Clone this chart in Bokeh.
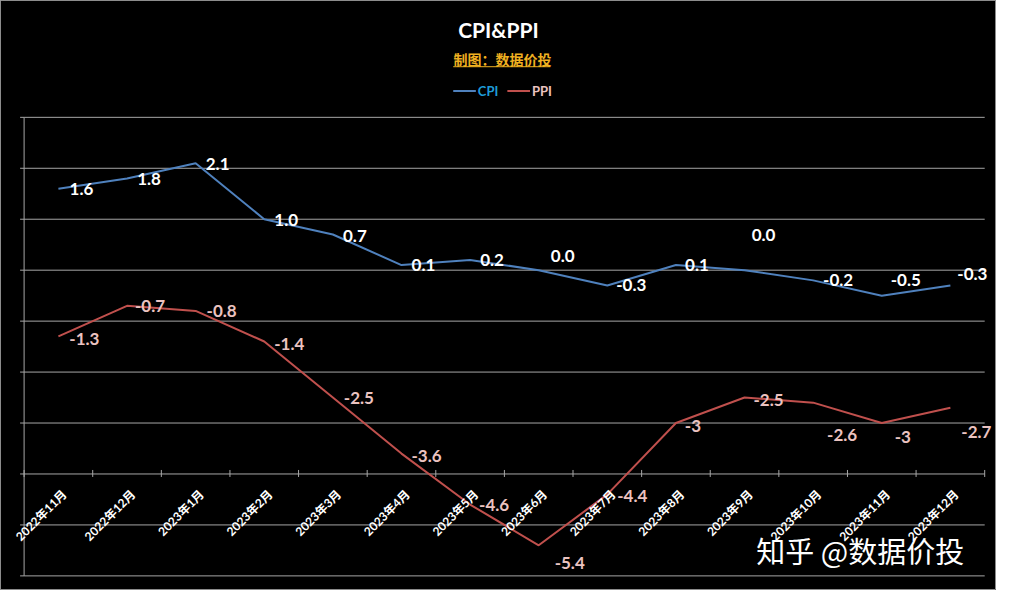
import numpy as np
from bokeh.plotting import figure
from bokeh.models import Range1d, ColumnDataSource
from bokeh.core.properties import value
from bokeh.embed import file_html
from bokeh.resources import INLINE

# ---------------- data ----------------
months = ["2022年11月", "2022年12月", "2023年1月", "2023年2月", "2023年3月",
          "2023年4月", "2023年5月", "2023年6月", "2023年7月", "2023年8月",
          "2023年9月", "2023年10月", "2023年11月", "2023年12月"]
cpi = [1.6, 1.8, 2.1, 1.0, 0.7, 0.1, 0.2, 0.0, -0.3, 0.1, 0.0, -0.2, -0.5, -0.3]
ppi = [-1.3, -0.7, -0.8, -1.4, -2.5, -3.6, -4.6, -5.4, -4.4, -3.0, -2.5, -2.6, -3.0, -2.7]
cpi_labels = ["1.6", "1.8", "2.1", "1.0", "0.7", "0.1", "0.2", "0.0", "-0.3", "0.1",
              "0.0", "-0.2", "-0.5", "-0.3"]
ppi_labels = ["-1.3", "-0.7", "-0.8", "-1.4", "-2.5", "-3.6", "-4.6", "-5.4", "-4.4",
              "-3", "-2.5", "-2.6", "-3", "-2.7"]
y_ticks = [3, 2, 1, 0, -1, -2, -3, -4, -5, -6]
x_axis_cross = -4

# label placement (screen px offsets, style only)
cpi_dx = [23, 22, 22, 22, 22, 22, 22, 24, 24, 21, 19, 25, 24, 22]
cpi_dy = [0, 1, 1, 1, 1, 0, 0, -14, 0, 0, -35, 0, -16, -11]
ppi_dx = [26, 23, 26, 25, 26, 25, 24, 31, 25, 17, 24, 29, 21, 26]
ppi_dy = [3, 0, 0, 2, 0, 2, 0, 18, 2, 3, 2, 32, 14, 24]

# ---------------- layout ----------------
W, H = 996, 590
REF_W, REF_H = 1012, 606
X0, X1 = -0.844, 13.672
Y0, Y1 = -6.287, 5.293


def px2x(px):
    return X0 + px / REF_W * (X1 - X0)


def py2y(py):
    return Y1 - py / REF_H * (Y1 - Y0)


idx = list(range(len(months)))
GRID = "#A6A6A6"
LAT = value("Lato, 'Noto Sans CJK SC'")
CJK = value("'Noto Sans CJK SC'")

p = figure(width=W, height=H, x_range=Range1d(X0, X1), y_range=Range1d(Y0, Y1),
           output_backend="svg", toolbar_location=None, min_border=0,
           x_axis_location=None, y_axis_location=None,
           background_fill_color="black", border_fill_color="black")
p.xgrid.visible = False
p.ygrid.visible = False
p.outline_line_color = "#8C8C8C"
p.outline_line_width = 1

xl, xr = -0.5, len(months) - 0.5
# horizontal grid lines
p.segment(x0=[xl] * len(y_ticks), x1=[xr] * len(y_ticks), y0=y_ticks, y1=y_ticks,
          line_color=GRID, line_width=1)
# left value axis
p.segment(x0=[xl], x1=[xl], y0=[min(y_ticks)], y1=[max(y_ticks)], line_color=GRID, line_width=1)
tick_len_x = 4 / (W / (X1 - X0))
p.segment(x0=[xl - tick_len_x] * len(y_ticks), x1=[xl] * len(y_ticks), y0=y_ticks, y1=y_ticks,
          line_color=GRID, line_width=1)
# category axis ticks at the crossing value
bounds = [k - 0.5 for k in range(len(months) + 1)]
upx = 4 / (H / (Y1 - Y0))
dnx = 3 / (H / (Y1 - Y0))
p.segment(x0=bounds, x1=bounds, y0=[x_axis_cross + upx] * len(bounds),
          y1=[x_axis_cross - dnx] * len(bounds), line_color=GRID, line_width=1)

# series lines
p.line(idx, cpi, line_color="#4F81BD", line_width=2)
p.line(idx, ppi, line_color="#C0504D", line_width=2)

# data labels
src_c = ColumnDataSource(dict(x=idx, y=cpi, t=cpi_labels, dx=cpi_dx, dy=cpi_dy))
src_p = ColumnDataSource(dict(x=idx, y=ppi, t=ppi_labels, dx=ppi_dx, dy=ppi_dy))
p.text(x="x", y="y", text="t", x_offset="dx", y_offset="dy", source=src_c,
       text_align="center", text_baseline="middle", text_color="white",
       text_font=LAT, text_font_style="bold", text_font_size="17px")
p.text(x="x", y="y", text="t", x_offset="dx", y_offset="dy", source=src_p,
       text_align="center", text_baseline="middle", text_color="#EBC3C0",
       text_font=LAT, text_font_style="bold", text_font_size="17px")

# category labels (rotated)
p.text(x=idx, y=[x_axis_cross] * len(months), text=months, angle=np.pi / 4,
       text_align="right", text_baseline="middle", x_offset=6, y_offset=18,
       text_color="white", text_font=LAT, text_font_style="bold", text_font_size="12px")

# title & subtitle
p.text(x=[px2x(506)], y=[py2y(30)], text=["CPI&PPI"], text_align="center",
       text_baseline="middle", text_color="white", text_font=LAT,
       text_font_style="bold", text_font_size="21px")
GOLD = "#F0B020"
p.text(x=[px2x(510)], y=[py2y(60)], text=["制图：数据价投"], text_align="center",
       text_baseline="middle", text_color=GOLD, text_font=CJK,
       text_font_style="bold", text_font_size="14px")
p.segment(x0=[px2x(460)], x1=[px2x(558)], y0=[py2y(68)], y1=[py2y(68)],
          line_color=GOLD, line_width=1)

# legend
ly = py2y(93)
p.segment(x0=[px2x(460)], x1=[px2x(483)], y0=[ly], y1=[ly], line_color="#4F81BD", line_width=2)
p.text(x=[px2x(485)], y=[ly], text=["CPI"], text_align="left", text_baseline="middle",
       text_color="#1E9BD7", text_font=LAT, text_font_style="bold", text_font_size="13px")
p.segment(x0=[px2x(515)], x1=[px2x(538)], y0=[ly], y1=[ly], line_color="#C0504D", line_width=2)
p.text(x=[px2x(540)], y=[ly], text=["PPI"], text_align="left", text_baseline="middle",
       text_color="#EBC3C0", text_font=LAT, text_font_style="bold", text_font_size="13px")

# watermark
p.text(x=[px2x(768)], y=[py2y(564)], text=["知乎 @数据价投"], text_align="left",
       text_baseline="middle", text_color="white", text_font=CJK,
       text_font_size="29px")

open("out.html", "w").write(file_html(p, INLINE))
